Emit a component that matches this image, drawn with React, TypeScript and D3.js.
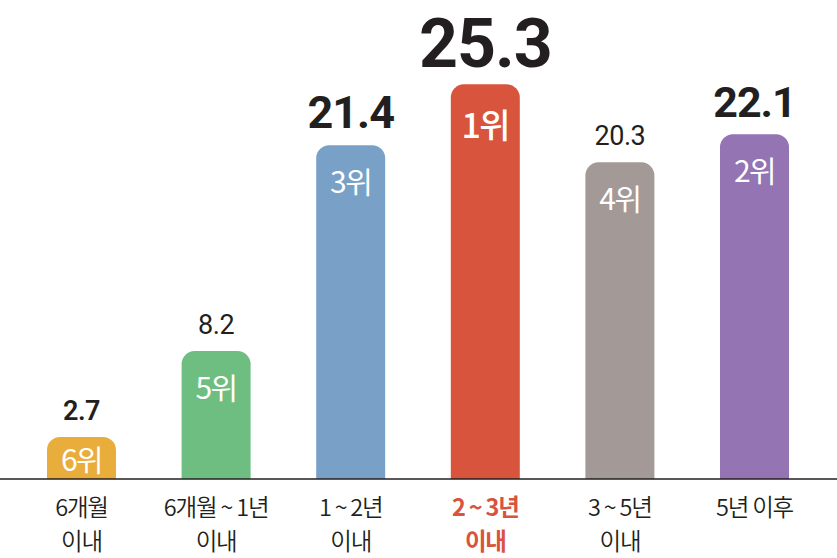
import React from "react";
import * as d3 from "d3";

const categoryLine1 = ["6개월", "6개월 ~ 1년", "1 ~ 2년", "2 ~ 3년", "3 ~ 5년", "5년 이후"];
const categoryLine2 = ["이내", "이내", "이내", "이내", "이내", ""];
const values = [2.7, 8.2, 21.4, 25.3, 20.3, 22.1];
const ranks = ["6위", "5위", "3위", "1위", "4위", "2위"];
const highlightIndex = 3;

const W = 837;
const H = 558;
const barColors = ["#E9AD3B", "#6DBE80", "#79A1C7", "#D8543C", "#A39A97", "#9474B2"];
const valueStyle = [
  { size: 27, weight: 600 },
  { size: 27, weight: 400 },
  { size: 45, weight: 700 },
  { size: 68, weight: 700 },
  { size: 27, weight: 400 },
  { size: 43, weight: 700 },
];

export default function App() {
  const baseY = 479;
  const x = d3.scalePoint<string>().domain(categoryLine1).range([81.5, 754.5]);
  const y = d3.scaleLinear().domain([0, 26]).range([baseY, baseY - 26 * 15.6]);
  const bw = 69;
  const r = 13;
  const textColor = "#231f20";
  const sans = "Roboto, 'Noto Sans CJK KR', sans-serif";
  const kr = "'Noto Sans CJK KR', sans-serif";

  return (
    <svg width={W} height={H} style={{ position: "absolute", left: 0, top: 0, background: "#fff" }}>
      {values.map((v, i) => {
        const cx = x(categoryLine1[i]) as number;
        const top = y(v);
        const x0 = cx - bw / 2;
        const x1 = cx + bw / 2;
        const p = d3.path();
        p.moveTo(x0, baseY);
        p.lineTo(x0, top + r);
        p.arcTo(x0, top, x0 + r, top, r);
        p.lineTo(x1 - r, top);
        p.arcTo(x1, top, x1, top + r, r);
        p.lineTo(x1, baseY);
        p.closePath();
        const big = i === highlightIndex;
        const rankY = big ? top + 54 : Math.min(top + 48, baseY - 8);
        return (
          <g key={i}>
            <path d={p.toString()} fill={barColors[i]} />
            <text
              x={cx}
              y={top - 17}
              textAnchor="middle"
              fontFamily={sans}
              fontSize={valueStyle[i].size}
              fontWeight={valueStyle[i].weight}
              fill={textColor}
              letterSpacing={valueStyle[i].size > 40 ? -1 : -0.5}
            >
              {v.toFixed(1)}
            </text>
            <text
              x={cx}
              y={rankY}
              textAnchor="middle"
              fontFamily={kr}
              fontSize={big ? 34 : 30}
              fontWeight={big ? 500 : 400}
              fill="#fff"
              letterSpacing={-1.5}
            >
              {ranks[i]}
            </text>
          </g>
        );
      })}
      <line x1={0} x2={W} y1={baseY} y2={baseY} stroke="#231f20" strokeWidth={1.5} />
      {categoryLine1.map((c, i) => {
        const cx = x(c) as number;
        const hl = i === highlightIndex;
        return (
          <g key={c}>
            <text
              x={cx}
              y={516}
              textAnchor="middle"
              fontFamily={kr}
              fontSize={23.5}
              fontWeight={hl ? 700 : 350}
              fill={hl ? "#D8543C" : textColor}
              letterSpacing={-1.2}
            >
              {c}
            </text>
            {categoryLine2[i] && (
              <text
                x={cx}
                y={550}
                textAnchor="middle"
                fontFamily={kr}
                fontSize={23.5}
                fontWeight={hl ? 700 : 350}
                fill={hl ? "#D8543C" : textColor}
                letterSpacing={-1.2}
              >
                {categoryLine2[i]}
              </text>
            )}
          </g>
        );
      })}
    </svg>
  );
}
